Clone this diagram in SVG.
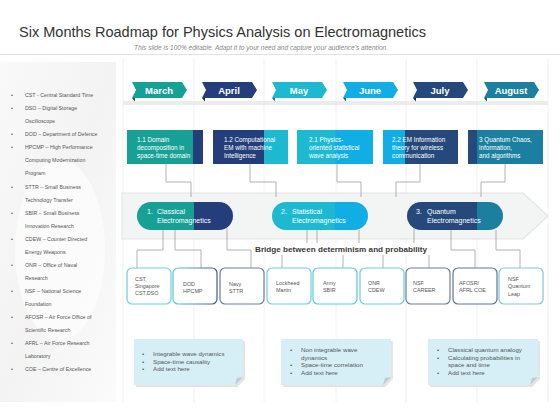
<svg xmlns="http://www.w3.org/2000/svg" width="560" height="420" viewBox="0 0 560 420">
<defs>
<style>
.t{font-family:"Liberation Sans",Arial,sans-serif}
.title{font-size:15px;fill:#333}
.sub{font-size:6.5px;fill:#888;font-style:italic}
.lst{font-size:5.3px;fill:#555}
.mon{font-size:9.5px;font-weight:bold;fill:#fff;text-anchor:middle}
.bx{font-size:6.3px;fill:#fff}
.pl{font-size:7px;fill:#fff}
.sm{font-size:5.4px;fill:#555}
.nt{font-size:6.2px;fill:#555}
.grid{stroke:#ececec;stroke-width:0.8}
.con{stroke:#a0a0a0;stroke-width:0.8;fill:none}
.card{fill:#fff;stroke-width:1.2}
</style>
<linearGradient id="lp" x1="0" y1="0" x2="1" y2="1">
<stop offset="0" stop-color="#f9f9f9"/>
<stop offset="0.5" stop-color="#f3f3f3"/>
<stop offset="1" stop-color="#fbfbfb"/>
</linearGradient>
<linearGradient id="b2" x1="0" y1="0" x2="1" y2="0">
<stop offset="0" stop-color="#5fc6d4"/>
<stop offset="1" stop-color="#3d5b8c"/>
</linearGradient>
<path id="arr" d="M0,0 H50 L55,8 L50,16 H0 L4,8 Z"/>
<path id="tab" d="M0,16 H3 V19.5 Z"/>
</defs>
<rect width="560" height="420" fill="#fff"/>
<g id="title">
<text class="t title" x="19" y="37" textLength="407" lengthAdjust="spacingAndGlyphs">Six Months Roadmap for Physics Analysis on Electromagnetics</text>
<text class="t sub" x="134" y="50" textLength="254" lengthAdjust="spacingAndGlyphs">This slide is 100% editable. Adapt it to your need and capture your audience's attention.</text>
<line x1="0" y1="54.5" x2="560" y2="54.5" stroke="#e2e2e2" stroke-width="1"/>
</g>
<g id="legend">
<rect x="0" y="62" width="116" height="340" fill="url(#lp)"/>
<ellipse cx="60" cy="250" rx="45" ry="90" fill="#fdfdfd" opacity="0.7"/>
<g class="t lst">
<text x="11" y="97">•</text><text x="25" y="97">CST - Central Standard Time</text>
<text x="11" y="110">•</text><text x="25" y="110">DSO – Digital Storage</text>
<text x="25" y="123.2">Oscilloscope</text>
<text x="11" y="136.2">•</text><text x="25" y="136.2">DOD –  Department of Defence</text>
<text x="11" y="149.3">•</text><text x="25" y="149.3">HPCMP – High Performance</text>
<text x="25" y="162.4">Computing Modernization</text>
<text x="25" y="175.4">Program</text>
<text x="11" y="188.5">•</text><text x="25" y="188.5">STTR – Small Business</text>
<text x="25" y="201.6">Technology Transfer</text>
<text x="11" y="214.6">•</text><text x="25" y="214.6">SBIR – Small Business</text>
<text x="25" y="227.7">Innovation Research</text>
<text x="11" y="240.8">•</text><text x="25" y="240.8">CDEW –  Counter Directed</text>
<text x="25" y="253.8">Energy Weapons</text>
<text x="11" y="266.9">•</text><text x="25" y="266.9">ONR –  Office of Naval</text>
<text x="25" y="280">Research</text>
<text x="11" y="293">•</text><text x="25" y="293">NSF – National Science</text>
<text x="25" y="306.1">Foundation</text>
<text x="11" y="319.2">•</text><text x="25" y="319.2">AFOSR – Air Force Office of</text>
<text x="25" y="332.2">Scientific Research</text>
<text x="11" y="345.3">•</text><text x="25" y="345.3">AFRL – Air Force Research</text>
<text x="25" y="358.4">Laboratory</text>
<text x="11" y="371.4">•</text><text x="25" y="371.4">COE – Centre of Excellence</text>
</g>
</g>
<g id="grid">
<line class="grid" x1="123" y1="58" x2="123" y2="402"/>
<line class="grid" x1="194" y1="58" x2="194" y2="402"/>
<line class="grid" x1="264" y1="58" x2="264" y2="402"/>
<line class="grid" x1="336" y1="58" x2="336" y2="402"/>
<line class="grid" x1="406" y1="58" x2="406" y2="402"/>
<line class="grid" x1="477" y1="58" x2="477" y2="402"/>
<line class="grid" x1="548" y1="58" x2="548" y2="402"/>
<rect x="123" y="101" width="425" height="4" fill="#ececec"/>
</g>
<g id="months">
<g id="m-march" transform="translate(132,82)"><use href="#arr" fill="#17A096"/><use href="#tab" fill="#0c5e58"/><text class="t mon" x="27" y="11.5">March</text></g>
<g id="m-april" transform="translate(202,82)"><use href="#arr" fill="#243E7B"/><use href="#tab" fill="#142650"/><text class="t mon" x="27" y="11.5">April</text></g>
<g id="m-may" transform="translate(272,82)"><use href="#arr" fill="#1DB9D0"/><use href="#tab" fill="#117a8a"/><text class="t mon" x="27" y="11.5">May</text></g>
<g id="m-june" transform="translate(343,82)"><use href="#arr" fill="#11AEE6"/><use href="#tab" fill="#0a6f96"/><text class="t mon" x="27" y="11.5">June</text></g>
<g id="m-july" transform="translate(413,82)"><use href="#arr" fill="#26497B"/><use href="#tab" fill="#162d50"/><text class="t mon" x="27" y="11.5">July</text></g>
<g id="m-august" transform="translate(484,82)"><use href="#arr" fill="#1B80A0"/><use href="#tab" fill="#0f5268"/><text class="t mon" x="27" y="11.5">August</text></g>
</g>
<g id="band">
<path d="M122,193 H523 L548,216 L523,239 H122 Z" fill="#f3f4f4" stroke="#e4e4e4" stroke-width="1.2"/>
</g>
<g id="connectors">
<path class="con" d="M166,164 V182 H191 V197"/>
<path class="con" d="M250,164 V182 H276 V197"/>
<path class="con" d="M337,164 V182 H361 V197"/>
<path class="con" d="M420,164 V182 H396 V197"/>
<path class="con" d="M505,164 V182 H481 V197"/>
<path class="con" d="M163,230 V250 H137 V268"/>
<path class="con" d="M175,230 V250 H201 V268"/>
<path class="con" d="M227,228 V250 H251 V268"/>
<path class="con" d="M307,230 V249 H282 V268"/>
<path class="con" d="M317,230 V249 H343 V268"/>
<path class="con" d="M359,230 V249 H383 V268"/>
<path class="con" d="M414,228 V249 H429 V268"/>
<path class="con" d="M451,230 V250 H475 V268"/>
<path class="con" d="M496,230 V250 H520 V268"/>
</g>
<g id="tasks">
<g id="task1"><rect x="127" y="130" width="66" height="34" fill="#17A096"/><rect x="193" y="130" width="10" height="34" fill="#243E7B"/>
<text class="t bx" x="137" y="142">1.1 Domain</text><text class="t bx" x="137" y="150">decomposition in</text><text class="t bx" x="137" y="158">space-time domain</text></g>
<g id="task2"><rect x="213" y="130" width="51" height="34" fill="#243E7B"/><rect x="264" y="130" width="24" height="34" fill="#1DB9D0"/>
<text class="t bx" x="224" y="142">1.2 Computational</text><text class="t bx" x="224" y="150">EM  with machine</text><text class="t bx" x="224" y="158">Intelligence</text></g>
<g id="task3"><rect x="297" y="130" width="38" height="34" fill="#1DB9D0"/><rect x="335" y="130" width="38" height="34" fill="#11AEE6"/>
<text class="t bx" x="309" y="142">2.1 Physics-</text><text class="t bx" x="309" y="150">oriented statistical</text><text class="t bx" x="309" y="158">wave analysis</text></g>
<g id="task4"><rect x="383" y="130" width="22" height="34" fill="#11AEE6"/><rect x="405" y="130" width="53" height="34" fill="#26497B"/>
<text class="t bx" x="392" y="142">2.2 EM  Information</text><text class="t bx" x="392" y="150">theory for wireless</text><text class="t bx" x="392" y="158">communication</text></g>
<g id="task5"><rect x="468" y="130" width="9" height="34" fill="#26497B"/><rect x="477" y="130" width="66" height="34" fill="#1B80A0"/>
<text class="t bx" x="479" y="142">3 Quantum Chaos,</text><text class="t bx" x="479" y="150">information,</text><text class="t bx" x="479" y="158">and algorithms</text></g>
</g>
<g id="phases">
<g id="phase1"><path d="M194,202 H151 A14,14 0 0 0 151,230 H194 Z" fill="#17A096"/><path d="M194,202 H219 A14,14 0 0 1 219,230 H194 Z" fill="#243E7B"/>
<text class="t pl" x="147" y="214">1.</text><text class="t pl" x="157" y="214">Classical</text><text class="t pl" x="157" y="223">Electromagnetics</text></g>
<g id="phase2"><path d="M335,202 H286 A14,14 0 0 0 286,230 H335 Z" fill="#1DB9D0"/><path d="M335,202 H354 A14,14 0 0 1 354,230 H335 Z" fill="#11AEE6"/>
<text class="t pl" x="281" y="214">2.</text><text class="t pl" x="292" y="214">Statistical</text><text class="t pl" x="292" y="223">Electromagnetics</text></g>
<g id="phase3"><path d="M477,202 H421 A14,14 0 0 0 421,230 H477 Z" fill="#26497B"/><path d="M477,202 H489 A14,14 0 0 1 489,230 H477 Z" fill="#1B80A0"/>
<text class="t pl" x="416" y="214">3.</text><text class="t pl" x="427" y="214">Quantum</text><text class="t pl" x="427" y="223">Electromagnetics</text></g>
</g>
<g id="bridge">
<rect x="253" y="243" width="178" height="12" fill="#fff"/>
<text class="t" x="341" y="251.5" text-anchor="middle" font-size="7.6" font-weight="bold" fill="#3a3a3a" textLength="172" lengthAdjust="spacingAndGlyphs">Bridge between determinism and probability</text>
</g>
<g id="orgs">
<g id="o1"><rect class="card" x="127" y="268" width="44" height="36" rx="5" stroke="#6fcfdb"/><text class="t sm" x="135" y="281">CST,</text><text class="t sm" x="135" y="288">Singapore</text><text class="t sm" x="135" y="295">CST,DSO</text></g>
<g id="o2"><rect class="card" x="173" y="268" width="44" height="36" rx="5" stroke="url(#b2)"/><text class="t sm" x="183" y="286">DOD</text><text class="t sm" x="183" y="293">HPCMP</text></g>
<g id="o3"><rect class="card" x="220" y="268" width="44" height="36" rx="5" stroke="#6a7ea3"/><text class="t sm" x="229" y="286">Navy</text><text class="t sm" x="229" y="293">STTR</text></g>
<g id="o4"><rect class="card" x="267" y="268" width="44" height="36" rx="5" stroke="#6fcfdb"/><text class="t sm" x="276" y="285">Lockheed</text><text class="t sm" x="276" y="292">Martin</text></g>
<g id="o5"><rect class="card" x="313" y="268" width="44" height="36" rx="5" stroke="#5cc8d8"/><text class="t sm" x="323" y="285">Army</text><text class="t sm" x="323" y="292">SBIR</text></g>
<g id="o6"><rect class="card" x="360" y="268" width="44" height="36" rx="5" stroke="#6fcfdb"/><text class="t sm" x="368" y="285">ONR</text><text class="t sm" x="368" y="292">CDEW</text></g>
<g id="o7"><rect class="card" x="406" y="268" width="44" height="36" rx="5" stroke="#6b7f98"/><text class="t sm" x="413" y="285">NSF</text><text class="t sm" x="413" y="292">CAREER</text></g>
<g id="o8"><rect class="card" x="453" y="268" width="44" height="36" rx="5" stroke="#5a76a0"/><text class="t sm" x="459" y="285">AFOSR/</text><text class="t sm" x="459" y="292">AFRL COE</text></g>
<g id="o9"><rect class="card" x="499" y="268" width="44" height="36" rx="5" stroke="#7ec7d8"/><text class="t sm" x="508" y="281">NSF</text><text class="t sm" x="508" y="288">Quantum</text><text class="t sm" x="508" y="296">Leap</text></g>
</g>
<g id="notes">
<g id="note1">
<path d="M136,341 H245 V379 L237,387 H136 Z" fill="#e4e4e4"/>
<path d="M134,339 H243 V377 L235,385 H134 Z" fill="#d6eff7"/>
<path d="M243,377 L235,385 L237,378 Z" fill="#b9cdd4"/>
<g class="t nt"><text x="142" y="356">•</text><text x="153" y="356">Integrable  wave dynamics</text>
<text x="142" y="363.5">•</text><text x="153" y="363.5">Space-time causality</text>
<text x="142" y="371">•</text><text x="153" y="371">Add text here</text></g>
</g>
<g id="note2">
<path d="M283,341 H393 V379 L385,387 H283 Z" fill="#e4e4e4"/>
<path d="M281,339 H391 V377 L383,385 H281 Z" fill="#d6eff7"/>
<path d="M391,377 L383,385 L385,378 Z" fill="#b9cdd4"/>
<g class="t nt"><text x="290" y="352">•</text><text x="301" y="352">Non  integrable wave</text>
<text x="301" y="359.5">dynamics</text>
<text x="290" y="367">•</text><text x="301" y="367">Space-time correlation</text>
<text x="290" y="374.5">•</text><text x="301" y="374.5">Add text here</text></g>
</g>
<g id="note3">
<path d="M430,341 H540 V379 L532,387 H430 Z" fill="#e4e4e4"/>
<path d="M428,339 H538 V377 L530,385 H428 Z" fill="#d6eff7"/>
<path d="M538,377 L530,385 L532,378 Z" fill="#b9cdd4"/>
<g class="t nt"><text x="437" y="352">•</text><text x="448" y="352">Classical quantum analogy</text>
<text x="437" y="359.5">•</text><text x="448" y="359.5">Calculating probabilities in</text>
<text x="448" y="367">space and time</text>
<text x="437" y="374.5">•</text><text x="448" y="374.5">Add text here</text></g>
</g>
</g>
</svg>
